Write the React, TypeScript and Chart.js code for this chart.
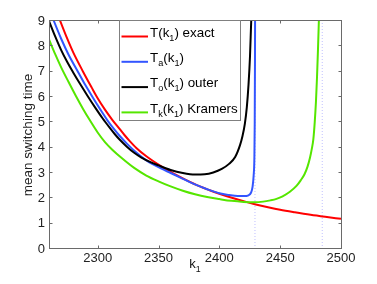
import React, { useEffect, useRef } from "react";
import { Chart, registerables } from "chart.js";

Chart.register(...registerables);

// ---------- data ----------
const xTickValues = [2300, 2350, 2400, 2450, 2500];
const yTickValues = [0, 1, 2, 3, 4, 5, 6, 7, 8, 9];

const exactK = [2266, 2268, 2275, 2280, 2288, 2295, 2300, 2306, 2312, 2318, 2322, 2326, 2332, 2340, 2350, 2360, 2372, 2384, 2392, 2400, 2411, 2422, 2430, 2440, 2450, 2462, 2475, 2487, 2500];
const exactT = [9.4, 9.15, 8.3, 7.75, 7.0, 6.38, 5.95, 5.5, 5.1, 4.74, 4.5, 4.28, 3.98, 3.66, 3.33, 3.04, 2.74, 2.47, 2.32, 2.18, 2.01, 1.86, 1.76, 1.65, 1.55, 1.45, 1.35, 1.27, 1.19];

const approxK = [2262, 2264, 2270, 2276, 2284, 2290, 2296, 2302, 2308, 2314, 2318, 2324, 2332, 2340, 2346, 2352, 2360, 2368, 2380, 2390, 2400, 2408, 2415, 2420, 2424, 2426, 2427.3, 2428.2, 2428.8, 2429.1, 2429.3, 2429.4];
const approxT = [9.25, 9.0, 8.3, 7.68, 6.98, 6.46, 5.98, 5.52, 5.08, 4.7, 4.47, 4.16, 3.8, 3.5, 3.33, 3.18, 3.0, 2.82, 2.55, 2.36, 2.2, 2.13, 2.09, 2.09, 2.12, 2.22, 2.45, 2.9, 3.6, 5.0, 7.5, 9.6];

const outerK = [2259, 2260, 2265, 2270, 2275, 2280, 2286, 2292, 2298, 2304, 2310, 2314, 2318, 2324, 2330, 2336, 2343, 2350, 2360, 2370, 2380, 2388, 2395, 2402, 2408, 2413, 2417, 2419, 2421, 2422.6, 2424, 2425.2, 2426.2, 2426.8];
const outerT = [9.12, 9.0, 8.4, 7.85, 7.38, 6.96, 6.48, 6.02, 5.58, 5.16, 4.78, 4.54, 4.32, 4.04, 3.8, 3.61, 3.44, 3.3, 3.12, 3.0, 2.94, 2.95, 3.02, 3.16, 3.36, 3.63, 4.1, 4.45, 4.95, 5.6, 6.5, 7.6, 9.0, 9.7];

const kramersK = [2260, 2265, 2270, 2276, 2282, 2288, 2294, 2300, 2306, 2312, 2320, 2330, 2340, 2350, 2360, 2370, 2380, 2390, 2400, 2410, 2420, 2428, 2436, 2442, 2447, 2452, 2458, 2463.6, 2467, 2470, 2472.5, 2474.5, 2476, 2477.3, 2478.4, 2479.4, 2480.3, 2481.1, 2481.8, 2482.3];
const kramersT = [8.27, 7.7, 7.17, 6.6, 6.05, 5.53, 5.05, 4.6, 4.22, 3.92, 3.58, 3.2, 2.9, 2.67, 2.47, 2.3, 2.16, 2.05, 1.97, 1.9, 1.86, 1.85, 1.87, 1.92, 1.98, 2.08, 2.26, 2.5, 2.72, 2.95, 3.25, 3.6, 3.95, 4.35, 5.0, 5.8, 6.8, 7.9, 9.0, 9.8];

const asymptoteK = [2429.3, 2484.6];

const seriesLabels = ["T(k_1) exact", "T_a(k_1)", "T_o(k_1) outer", "T_k(k_1) Kramers"];
const seriesColors = ["#ff0000", "#3355ff", "#000000", "#55e600"];
const xTitle = "k_1";
const yTitle = "mean switching time";

// ---------- helpers ----------
const FONT = '"Liberation Sans", Arial, Helvetica, sans-serif';
const pts = (xs: number[], ys: number[]) => xs.map((x, i) => ({ x, y: ys[i] }));

function parseRich(text: string) {
  const segs: { t: string; sub: boolean }[] = [];
  let buf = "";
  for (let i = 0; i < text.length; i++) {
    if (text[i] === "_" && i + 1 < text.length) {
      if (buf) segs.push({ t: buf, sub: false });
      buf = "";
      segs.push({ t: text[i + 1], sub: true });
      i++;
    } else buf += text[i];
  }
  if (buf) segs.push({ t: buf, sub: false });
  return segs;
}

function drawRich(ctx: CanvasRenderingContext2D, text: string, x: number, y: number, size: number, align: "left" | "center") {
  const segs = parseRich(text);
  const subSize = size * 0.68;
  const widths = segs.map((s) => {
    ctx.font = `${s.sub ? subSize : size}px ${FONT}`;
    return ctx.measureText(s.t).width;
  });
  const total = widths.reduce((a, b) => a + b, 0);
  let cx = align === "center" ? x - total / 2 : x;
  ctx.textAlign = "left";
  ctx.textBaseline = "alphabetic";
  segs.forEach((s, i) => {
    ctx.font = `${s.sub ? subSize : size}px ${FONT}`;
    ctx.fillText(s.t, cx, s.sub ? y + size * 0.3 : y);
    cx += widths[i];
  });
}

const decorPlugin = {
  id: "decor",
  afterDatasetsDraw(chart: any) {
    const { ctx, chartArea } = chart;
    const { left, right, top, bottom } = chartArea;
    const xs = chart.scales.x;
    const ys = chart.scales.y;
    const L = Math.round(left) + 0.5;
    const R = Math.round(right) + 0.5;
    const T = Math.round(top) - 0.5;
    const B = Math.round(bottom) - 0.5;
    ctx.save();
    ctx.strokeStyle = "#6a6a6a";
    ctx.lineWidth = 1;
    ctx.strokeRect(L, T, R - L, B - T);
    const tl = 3;
    ctx.beginPath();
    xTickValues.forEach((v) => {
      const px = Math.round(xs.getPixelForValue(v)) + 0.5;
      ctx.moveTo(px, B);
      ctx.lineTo(px, B - tl);
      ctx.moveTo(px, T);
      ctx.lineTo(px, T + tl);
    });
    yTickValues.forEach((v) => {
      const py = Math.round(ys.getPixelForValue(v)) - 0.5;
      ctx.moveTo(L, py);
      ctx.lineTo(L + tl, py);
      ctx.moveTo(R, py);
      ctx.lineTo(R - tl, py);
    });
    ctx.stroke();
    ctx.restore();
  },
  afterDraw(chart: any) {
    const { ctx, chartArea } = chart;
    const { top } = chartArea;
    ctx.save();
    // legend box
    const bx = 119.5;
    const by = Math.round(top) - 0.5;
    const bw = 121;
    const bh = 100;
    ctx.fillStyle = "#ffffff";
    ctx.fillRect(bx, by, bw, bh);
    ctx.strokeStyle = "#808080";
    ctx.lineWidth = 1;
    ctx.strokeRect(bx, by, bw, bh);
    seriesLabels.forEach((lab, i) => {
      const ry = by + 16 + i * 25.3;
      ctx.strokeStyle = seriesColors[i];
      ctx.lineWidth = 2;
      ctx.beginPath();
      ctx.moveTo(bx + 2, ry);
      ctx.lineTo(bx + 28.5, ry);
      ctx.stroke();
      ctx.fillStyle = "#000000";
      drawRich(ctx, lab, bx + 30.5, ry + 0.3, 13.4, "left");
    });
    // x title
    ctx.fillStyle = "#111111";
    drawRich(ctx, xTitle, 195, 268.3, 13, "center");
    ctx.restore();
  },
};

export default function App() {
  const ref = useRef<HTMLCanvasElement | null>(null);
  useEffect(() => {
    if (!ref.current) return;
    const lineDs = (i: number, xs: number[], ys: number[], order: number) => ({
      label: seriesLabels[i],
      data: pts(xs, ys),
      borderColor: seriesColors[i],
      backgroundColor: seriesColors[i],
      borderWidth: 2,
      pointRadius: 0,
      cubicInterpolationMode: "monotone" as const,
      clip: 0,
      order,
      fill: false,
    });
    const asymDs = (k: number) => ({
      label: "",
      data: [
        { x: k, y: 0 },
        { x: k, y: 9 },
      ],
      borderColor: "rgba(140,140,255,0.55)",
      borderWidth: 1,
      borderDash: [1, 2],
      pointRadius: 0,
      tension: 0,
      clip: 0,
      order: 10,
      fill: false,
    });
    const chart = new Chart(ref.current, {
      type: "line",
      data: {
        datasets: [
          lineDs(0, exactK, exactT, 4),
          lineDs(1, approxK, approxT, 3),
          lineDs(2, outerK, outerT, 2),
          lineDs(3, kramersK, kramersT, 1),
          asymDs(asymptoteK[0]),
          asymDs(asymptoteK[1]),
        ] as any,
      },
      options: {
        responsive: false,
        maintainAspectRatio: false,
        animation: false,
        events: [],
        layout: { padding: { top: 21, right: 36, left: 0, bottom: 0 } },
        plugins: { legend: { display: false }, tooltip: { enabled: false } },
        scales: {
          x: {
            type: "linear",
            min: 2260,
            max: 2500,
            afterBuildTicks: (s: any) => {
              s.ticks = xTickValues.map((v) => ({ value: v }));
            },
            afterFit: (s: any) => {
              s.height = 35;
            },
            grid: { display: false, drawTicks: false },
            border: { display: false },
            ticks: {
              padding: 2,
              color: "#222222",
              font: { family: FONT, size: 13 },
              maxRotation: 0,
              autoSkip: false,
              callback: (v: any) => String(v),
            },
          },
          y: {
            type: "linear",
            min: 0,
            max: 9,
            afterBuildTicks: (s: any) => {
              s.ticks = yTickValues.map((v) => ({ value: v }));
            },
            afterFit: (s: any) => {
              s.width = 49;
            },
            grid: { display: false, drawTicks: false },
            border: { display: false },
            ticks: {
              padding: 4,
              color: "#222222",
              font: { family: FONT, size: 13 },
              autoSkip: false,
              callback: (v: any) => String(v),
            },
            title: {
              display: true,
              text: yTitle,
              color: "#222222",
              font: { family: FONT, size: 13.5 },
              padding: { top: 20, bottom: 0 },
            },
          },
        },
      },
      plugins: [decorPlugin],
    });
    return () => chart.destroy();
  }, []);
  return (
    <div style={{ position: "fixed", left: 0, top: 0, width: 377, height: 284, background: "#ffffff" }}>
      <canvas ref={ref} width={377} height={284} style={{ display: "block", width: 377, height: 284 }} />
    </div>
  );
}
